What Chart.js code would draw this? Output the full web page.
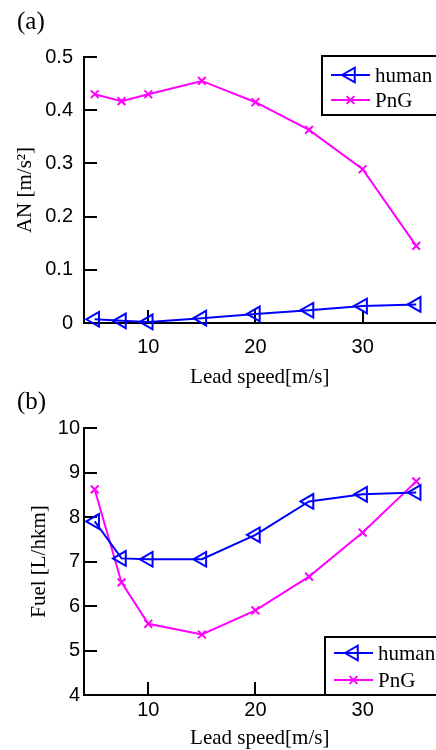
<!DOCTYPE html>
<html>
<head>
<meta charset="utf-8">
<script src="https://cdn.jsdelivr.net/npm/chart.js"></script>
<style>
  html, body { margin: 0; padding: 0; background: #fff; overflow: hidden; }
  #wrap { position: relative; width: 436px; height: 750px; overflow: hidden; background: #fff; }
  #wrap canvas { position: absolute; left: 0; }
  .panel { position: absolute; left: 17px; font-family: "Liberation Serif", "Times New Roman", serif; font-size: 25px; line-height: 25px; color: #000; }
</style>
</head>
<body>
<div id="wrap">
  <canvas id="chartAN" width="446" height="390" style="top:0"></canvas>
  <canvas id="chartFuel" width="446" height="370" style="top:385px"></canvas>
  <div class="panel" style="top:8px">(a)</div>
  <div class="panel" style="top:388px">(b)</div>
</div>
<script>
// values
var leadSpeed = [5, 7.5, 10, 15, 20, 25, 30, 35];
var anHuman = [0.007, 0.004, 0.002, 0.009, 0.017, 0.024, 0.032, 0.035];
var anPnG = [0.43, 0.417, 0.43, 0.455, 0.415, 0.363, 0.289, 0.145];
var fuelHuman = [7.9, 7.07, 7.05, 7.05, 7.6, 8.35, 8.51, 8.55];
var fuelPnG = [8.62, 6.53, 5.6, 5.36, 5.9, 6.66, 7.65, 8.8];
var seriesNames = ["human", "PnG"];

// tick labels
var speedTicks = [10, 20, 30];
var anTicks = [0, 0.1, 0.2, 0.3, 0.4, 0.5];
var fuelTicks = [4, 5, 6, 7, 8, 9, 10];

var SANS = '"Liberation Sans", Arial, sans-serif';
var SERIF = '"Liberation Serif", "Times New Roman", serif';
var BLUE = "#0000ff";
var MAGENTA = "#ff00ff";

function toPoints(ys) {
  return leadSpeed.map(function (x, i) {
    return { x: x, y: ys[i] };
  });
}

function humanDataset(ys) {
  return {
    label: seriesNames[0],
    data: toPoints(ys),
    borderColor: BLUE,
    borderWidth: 2,
    pointStyle: "triangle",
    pointRotation: 270,
    pointRadius: 8.5,
    pointBorderWidth: 2,
    pointBorderColor: BLUE,
    pointBackgroundColor: "rgba(0,0,0,0)",
    tension: 0,
    clip: false,
  };
}

function pngDataset(ys) {
  return {
    label: seriesNames[1],
    data: toPoints(ys),
    borderColor: MAGENTA,
    borderWidth: 2,
    pointStyle: "crossRot",
    pointRadius: 5.5,
    pointBorderWidth: 2,
    pointBorderColor: MAGENTA,
    tension: 0,
    clip: false,
  };
}

// matlab style ticks pointing into the plot
var innerTicks = {
  id: "innerTicks",
  beforeDatasetsDraw: function (chart) {
    var ctx = chart.ctx;
    var area = chart.chartArea;
    var xs = chart.scales.x;
    var ys = chart.scales.y;
    ctx.save();
    ctx.strokeStyle = "#000";
    ctx.lineWidth = 2;
    ctx.beginPath();
    xs.ticks.forEach(function (t) {
      var px = Math.round(xs.getPixelForValue(t.value));
      ctx.moveTo(px, area.bottom);
      ctx.lineTo(px, area.bottom - 13);
    });
    ys.ticks.forEach(function (t) {
      var py = Math.round(ys.getPixelForValue(t.value));
      ctx.moveTo(area.left, py);
      ctx.lineTo(area.left + 13, py);
    });
    ctx.stroke();
    ctx.restore();
  },
};

function drawMarker(ctx, style, x, y, r) {
  ctx.beginPath();
  if (style === "triangle") {
    ctx.moveTo(x - r, y);
    ctx.lineTo(x + r / 2, y - r * 0.866);
    ctx.lineTo(x + r / 2, y + r * 0.866);
    ctx.closePath();
  } else {
    var d = r * 0.707;
    ctx.moveTo(x - d, y - d);
    ctx.lineTo(x + d, y + d);
    ctx.moveTo(x + d, y - d);
    ctx.lineTo(x - d, y + d);
  }
  ctx.stroke();
}

// boxed legend inside the plot
var boxLegend = {
  id: "boxLegend",
  afterDraw: function (chart, args, opts) {
    var ctx = chart.ctx;
    ctx.save();
    ctx.fillStyle = "#fff";
    ctx.strokeStyle = "#000";
    ctx.lineWidth = 2;
    var w = chart.width + 10 - opts.left;
    ctx.fillRect(opts.left, opts.top, w, opts.bottom - opts.top);
    ctx.strokeRect(opts.left, opts.top, w, opts.bottom - opts.top);
    chart.data.datasets.forEach(function (ds, i) {
      var y = opts.rows[i];
      ctx.strokeStyle = ds.borderColor;
      ctx.lineWidth = 2;
      ctx.beginPath();
      ctx.moveTo(opts.left + 9, y);
      ctx.lineTo(opts.left + 48, y);
      ctx.stroke();
      drawMarker(ctx, ds.pointStyle, opts.left + 28.5, y, ds.pointRadius);
      ctx.fillStyle = "#000";
      ctx.font = "21px " + SERIF;
      ctx.textAlign = "left";
      ctx.textBaseline = "middle";
      ctx.fillText(ds.label, opts.left + 53, y + 1);
    });
    ctx.restore();
  },
};

function tickSetter(values) {
  return function (scale) {
    scale.ticks = values.map(function (v) {
      return { value: v };
    });
  };
}

// (a)
var anChartConfig = {
  type: "line",
  data: {
    datasets: [humanDataset(anHuman), pngDataset(anPnG)],
  },
  options: {
    responsive: false,
    animation: false,
    devicePixelRatio: 1,
    events: [],
    layout: { padding: { top: 57, left: 0, right: 0, bottom: 0 } },
    plugins: {
      legend: { display: false },
      tooltip: { enabled: false },
      boxLegend: { left: 322, top: 56, bottom: 115, rows: [75, 100] },
    },
    scales: {
      x: {
        type: "linear",
        min: 4,
        max: 36.8,
        afterBuildTicks: tickSetter(speedTicks),
        afterFit: function (scale) {
          scale.height = 67;
        },
        grid: { drawOnChartArea: false, drawTicks: false },
        border: { display: true, color: "#000", width: 2 },
        ticks: { padding: 12, color: "#000", font: { family: SANS, size: 20 } },
        title: {
          display: true,
          text: "Lead speed[m/s]",
          color: "#000",
          font: { family: SERIF, size: 21 },
          padding: { top: 0, bottom: 0 },
        },
      },
      y: {
        min: 0,
        max: 0.5,
        afterBuildTicks: tickSetter(anTicks),
        afterFit: function (scale) {
          scale.width = 84;
        },
        grid: { drawOnChartArea: false, drawTicks: false },
        border: { display: true, color: "#000", width: 2 },
        ticks: {
          padding: 11,
          color: "#000",
          font: { family: SANS, size: 20 },
          callback: function (v) {
            return String(v);
          },
        },
        title: {
          display: true,
          text: "AN [m/s²]",
          color: "#000",
          font: { family: SERIF, size: 21 },
          padding: { top: 13, bottom: 0 },
        },
      },
    },
  },
  plugins: [innerTicks, boxLegend],
};

// (b)
var fuelChartConfig = {
  type: "line",
  data: {
    datasets: [humanDataset(fuelHuman), pngDataset(fuelPnG)],
  },
  options: {
    responsive: false,
    animation: false,
    devicePixelRatio: 1,
    events: [],
    layout: { padding: { top: 43, left: 0, right: 0, bottom: 0 } },
    plugins: {
      legend: { display: false },
      tooltip: { enabled: false },
      boxLegend: { left: 325, top: 252, bottom: 310, rows: [268, 295] },
    },
    scales: {
      x: {
        type: "linear",
        min: 4,
        max: 36.8,
        afterBuildTicks: tickSetter(speedTicks),
        afterFit: function (scale) {
          scale.height = 60;
        },
        grid: { drawOnChartArea: false, drawTicks: false },
        border: { display: true, color: "#000", width: 2 },
        ticks: { padding: 3, color: "#000", font: { family: SANS, size: 20 } },
        title: {
          display: true,
          text: "Lead speed[m/s]",
          color: "#000",
          font: { family: SERIF, size: 21 },
          padding: { top: 0, bottom: 4 },
        },
      },
      y: {
        min: 4,
        max: 10,
        afterBuildTicks: tickSetter(fuelTicks),
        afterFit: function (scale) {
          scale.width = 84;
        },
        grid: { drawOnChartArea: false, drawTicks: false },
        border: { display: true, color: "#000", width: 2 },
        ticks: {
          padding: 4,
          color: "#000",
          font: { family: SANS, size: 20 },
          callback: function (v) {
            return String(v);
          },
        },
        title: {
          display: true,
          text: "Fuel [L/hkm]",
          color: "#000",
          font: { family: SERIF, size: 21 },
          padding: { top: 27, bottom: 0 },
        },
      },
    },
  },
  plugins: [innerTicks, boxLegend],
};

function generateChart(config, canvasId) {
  var canvas = document.getElementById(canvasId);
  if (!canvas) {
    throw new Error("Cannot find a canvas element with id " + canvasId);
  }
  return new Chart(canvas, config);
}

var anChart = generateChart(anChartConfig, "chartAN");
var fuelChart = generateChart(fuelChartConfig, "chartFuel");
</script>
</body>
</html>
